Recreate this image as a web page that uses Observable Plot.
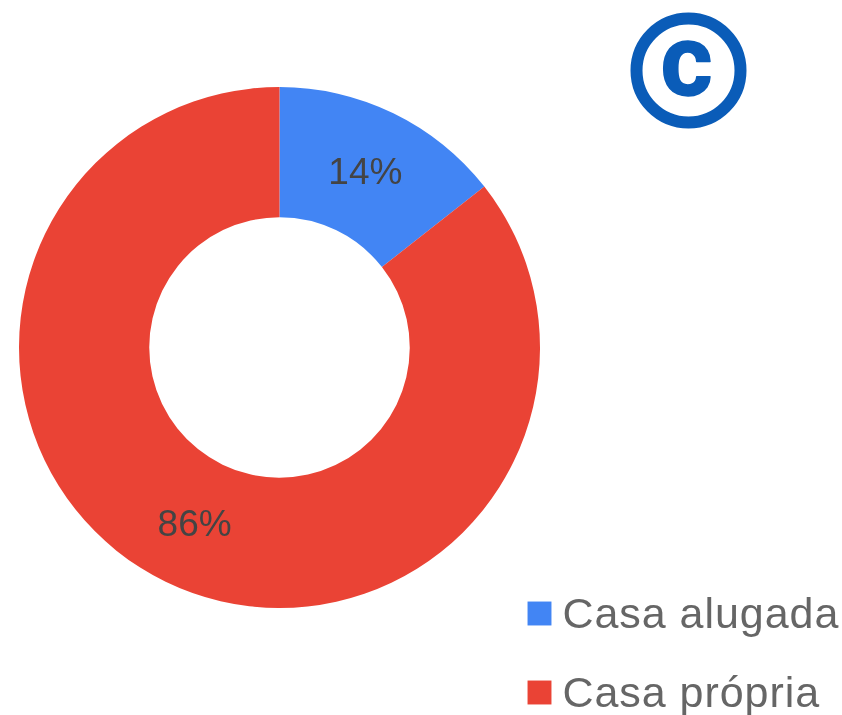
<!DOCTYPE html>
<html>
<head>
<meta charset="utf-8">
<script src="https://cdn.jsdelivr.net/npm/d3@7"></script>
<script src="https://cdn.jsdelivr.net/npm/@observablehq/plot@0.6"></script>
<style>
  html, body { margin: 0; padding: 0; background: #fff; overflow: hidden; }
  svg { display: block; }
  .soft text { filter: blur(0.6px); }
  .spaced text { letter-spacing: 0.95px; filter: blur(0.6px); }
</style>
</head>
<body>
<div id="chart"></div>
<script>
const categories = ["Casa alugada", "Casa própria"];
const shares = [14.4, 85.6];
const sliceLabels = ["14%", "86%"];
const sliceColors = ["#4285f4", "#ea4335"];
const holeRatio = 0.5;

const W = 842, H = 715, cx = 279.5, cy = 347.5, R = 260.5;

const pie = d3.pie().sort(null).value(d => d)(shares);
const sliceRows = pie.map((p, i) => {
  const mid = (p.startAngle + p.endAngle) / 2;
  const rm = (1 + holeRatio) / 2;
  return {
    label: sliceLabels[i], start: p.startAngle, end: p.endAngle, color: sliceColors[i],
    x: rm * Math.sin(mid), y: rm * Math.cos(mid)
  };
});

// the ring, drawn through the plot's x and y scales
function ring(index, {x, y}) {
  const ox = x(0), oy = y(0), rad = x(1) - x(0);
  const arc = d3.arc().innerRadius(rad * holeRatio).outerRadius(rad);
  const g = d3.create("svg:g").attr("transform", `translate(${ox},${oy})`);
  g.selectAll("path").data(sliceRows).join("path")
    .attr("d", d => arc({startAngle: d.start, endAngle: d.end}))
    .attr("fill", d => d.color);
  return g.node();
}

const legendRows = categories.map((c, i) => ({
  name: c, color: sliceColors[i], x: (539 - cx) / R, y: (cy - (i ? 692 : 613)) / R
}));
const legendTextX = (562 - cx) / R;
const badge = [{x: (688 - cx) / R, y: (cy - 70) / R}];

const chart = Plot.plot({
  width: W, height: H,
  margin: 0,
  x: {domain: [-cx / R, (W - cx) / R], range: [0, W], axis: null},
  y: {domain: [cy / R, (cy - H) / R], range: [0, H], axis: null},
  marks: [
    ring,
    Plot.text(sliceRows, {
      x: "x", y: "y", text: "label", fill: "#444", className: "soft",
      fontSize: 37, fontFamily: "Liberation Sans, Arial, sans-serif"
    }),
    Plot.dot(legendRows, {x: "x", y: "y", symbol: "square", r: 13.5, fill: "color"}),
    Plot.text(legendRows, {
      x: legendTextX, y: "y", text: "name", textAnchor: "start", fill: "#666", className: "spaced",
      fontSize: 43, fontFamily: "Liberation Sans, Arial, sans-serif", dy: 1
    }),
    Plot.dot(badge, {x: "x", y: "y", r: 52, stroke: "#0a5cb8", strokeWidth: 12, fill: "none"}),
    Plot.text(badge, {
      x: "x", y: "y", text: () => "c", fill: "#0a5cb8", stroke: "#0a5cb8", strokeWidth: 1.5,
      fontSize: 100, fontWeight: 700,
      fontFamily: "Roboto, sans-serif", dy: -8, dx: -2
    })
  ]
});
document.getElementById("chart").appendChild(chart);
</script>
</body>
</html>
